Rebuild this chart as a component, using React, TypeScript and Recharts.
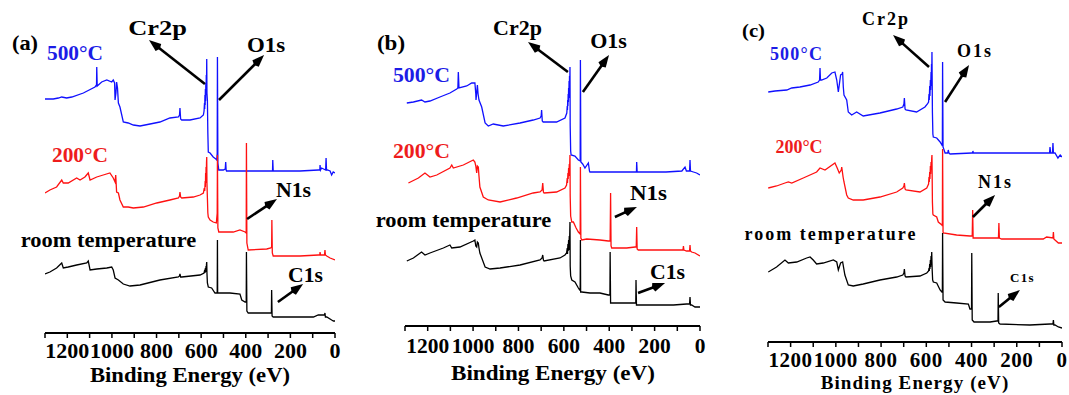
import React from 'react';
import { LineChart, Line, XAxis, YAxis, ReferenceLine } from 'recharts';

// Binding energy ticks (eV)
const energyTicks = [1300, 1200, 1100, 1000, 900, 800, 700, 600, 500, 400, 300, 200, 100, 0];
const energyLabels = [1200, 1000, 800, 600, 400, 200, 0];

// ---------- Panel (a) : [binding energy eV, intensity a.u.] ----------
const aBlue = [[1300,234],[1263,234],[1240,235],[1225,236],[1203,235],[1180,236],[1128,240],[1076,246],[1069,248],[1068,266],[1066,247],[1046,251],[1023,253],[1001,251],[994,253],[988,250],[986,233],[982,240],[979,251],[975,245],[971,230],[964,226],[949,211],[927,210],[904,208],[874,207],[829,209],[785,211],[740,215],[702,216],[697,218],[695,225],[692,214],[687,213],[650,213],[605,215],[590,218],[587,222],[585,230],[584,224],[583,238],[582,228],[581,244],[580,232],[579,250],[578,238],[577,258],[576,245],[575,274],[574,240],[572,233],[570,200],[568,181],[560,180],[546,176],[534,174],[530,173],[528,180],[527,276],[525,170],[521,163],[501,163],[492,164],[490,171],[488,163],[486,162],[396,162],[306,162],[284,162],[280,162],[279,173],[277,162],[275,162],[157,162],[75,163],[68,163],[67,168],[65,163],[60,165],[42,163],[40,175],[38,163],[34,163],[22,162],[15,158],[8,161],[0,160]];
const aRed = [[1300,140],[1278,143],[1248,146],[1225,153],[1218,150],[1196,150],[1158,155],[1143,153],[1121,156],[1106,160],[1098,153],[1068,156],[1039,158],[1009,160],[994,155],[986,151],[983,158],[979,141],[971,140],[964,133],[949,126],[927,126],[904,125],[859,126],[799,130],[740,133],[702,135],[697,137],[695,141],[692,136],[687,135],[635,136],[605,138],[590,140],[586,145],[584,142],[582,152],[581,146],[580,160],[579,150],[578,166],[577,156],[576,170],[575,176],[574,150],[572,135],[570,120],[568,116],[560,113],[546,111],[532,110],[528,120],[527,178],[525,105],[521,101],[456,101],[426,103],[403,101],[398,100],[397,190],[395,90],[389,83],[306,84],[288,85],[284,86],[283,113],[281,80],[277,77],[157,77],[75,78],[68,78],[67,81],[65,78],[60,78],[47,78],[45,83],[43,78],[37,77],[22,75],[0,73]];
const aBlack = [[1300,59],[1278,61],[1248,65],[1225,70],[1218,65],[1196,66],[1158,68],[1113,70],[1106,72],[1098,63],[1068,64],[1023,65],[1001,66],[994,63],[986,55],[971,53],[949,49],[919,47],[874,48],[785,53],[702,56],[697,57],[695,59],[692,56],[687,56],[605,58],[587,60],[584,63],[583,60],[581,65],[580,61],[578,67],[577,62],[576,69],[575,71],[574,60],[572,50],[568,46],[553,45],[538,40],[531,40],[528,40],[527,93],[526,40],[521,40],[471,40],[426,39],[418,33],[403,31],[398,31],[397,81],[395,22],[389,20],[306,20],[291,20],[285,20],[284,43],[282,17],[277,16],[97,16],[75,18],[47,18],[45,20],[43,16],[37,16],[15,13],[7,12],[0,12]];

// ---------- Panel (b) ----------
const bBlue = [[1292,223],[1263,224],[1227,226],[1212,224],[1190,225],[1146,229],[1102,233],[1072,237],[1067,238],[1065,254],[1062,238],[1028,240],[1006,243],[992,243],[988,232],[987,226],[983,236],[981,241],[978,232],[974,226],[962,219],[947,203],[933,200],[911,202],[867,200],[793,203],[735,206],[705,208],[700,210],[698,216],[695,205],[691,204],[632,204],[595,208],[587,213],[585,220],[584,216],[583,226],[582,220],[581,232],[580,224],[579,238],[578,228],[577,245],[576,234],[575,250],[574,240],[573,259],[572,200],[570,175],[568,171],[551,170],[536,166],[528,165],[527,266],[525,164],[517,162],[507,158],[492,163],[487,155],[485,154],[400,154],[285,154],[280,154],[279,164],[277,154],[150,154],[80,155],[66,159],[60,155],[46,155],[44,166],[42,155],[29,154],[15,153],[0,151]];
const bRed = [[1285,143],[1241,148],[1212,153],[1190,149],[1160,151],[1102,158],[1094,161],[1087,158],[1043,161],[999,166],[992,164],[988,160],[984,153],[981,160],[977,159],[974,150],[970,139],[955,129],[933,126],[881,124],[808,128],[735,133],[705,134],[696,136],[693,143],[690,134],[687,133],[632,134],[595,138],[588,141],[585,148],[584,143],[582,153],[581,147],[579,158],[578,150],[576,162],[575,155],[573,171],[572,130],[570,110],[565,104],[558,104],[546,98],[536,94],[528,92],[527,159],[525,88],[521,86],[499,87],[441,86],[404,85],[396,85],[394,133],[392,80],[389,78],[323,78],[286,79],[281,79],[279,99],[277,77],[272,76],[191,76],[88,76],[75,76],[73,80],[71,76],[59,75],[46,75],[44,81],[42,75],[37,74],[22,73],[0,70]];
const bBlack = [[1292,65],[1263,68],[1227,74],[1212,71],[1190,73],[1131,78],[1102,81],[1094,78],[1058,79],[999,85],[992,86],[988,80],[984,79],[981,84],[977,83],[974,78],[970,73],[947,59],[925,57],[881,58],[793,61],[705,66],[696,68],[693,71],[690,66],[687,65],[617,68],[595,71],[588,73],[585,78],[584,72],[582,82],[581,75],[579,86],[578,76],[576,90],[575,80],[573,104],[572,60],[570,50],[565,46],[551,44],[536,38],[530,36],[528,36],[527,86],[526,34],[521,34],[485,33],[441,33],[404,31],[397,31],[396,74],[394,23],[389,23],[323,23],[286,23],[283,23],[282,46],[280,21],[272,21],[117,21],[59,22],[46,22],[44,29],[42,21],[37,21],[22,19],[0,19]];

// ---------- Panel (c) ----------
const cBlue = [[1299,250],[1269,251],[1217,252],[1195,254],[1159,255],[1114,257],[1078,260],[1072,262],[1070,274],[1068,262],[1063,262],[1040,264],[1018,269],[1004,270],[996,262],[989,250],[979,267],[972,268],[970,270],[967,255],[964,247],[952,242],[945,230],[930,227],[908,230],[879,226],[805,229],[731,233],[704,235],[699,238],[697,244],[694,233],[690,232],[643,230],[606,235],[595,238],[590,240],[588,248],[587,242],[585,256],[584,246],[582,262],[581,252],[579,270],[578,256],[577,278],[576,262],[575,290],[573,230],[571,208],[569,205],[554,204],[539,200],[531,197],[529,196],[528,280],[526,195],[517,189],[505,189],[503,192],[500,189],[495,188],[399,189],[395,189],[394,191],[392,189],[274,189],[261,189],[97,189],[55,189],[53,195],[50,189],[42,189],[40,199],[38,189],[31,189],[18,184],[8,187],[0,185]];
const cRed = [[1299,154],[1262,156],[1225,159],[1210,160],[1195,159],[1144,164],[1085,170],[1070,174],[1048,172],[1004,179],[994,174],[985,169],[976,172],[974,175],[968,165],[964,160],[952,147],[945,144],[923,142],[879,142],[805,145],[731,150],[704,154],[699,156],[697,159],[694,153],[690,152],[628,150],[598,154],[590,158],[588,165],[587,160],[585,170],[584,163],[582,176],[581,168],[579,180],[578,172],[576,184],[575,187],[573,140],[571,128],[569,127],[554,125],[547,120],[531,117],[529,116],[528,193],[526,110],[525,109],[466,107],[407,106],[397,106],[395,132],[393,104],[385,104],[289,104],[281,104],[279,119],[277,104],[267,103],[83,103],[68,105],[40,104],[38,110],[36,103],[31,102],[16,99],[0,99]];
const cBlack = [[1299,70],[1262,75],[1225,82],[1210,79],[1173,80],[1129,84],[1114,85],[1100,82],[1085,78],[1056,79],[1011,82],[996,80],[989,72],[979,79],[970,80],[960,67],[945,57],[923,56],[879,58],[805,62],[731,65],[704,67],[699,69],[697,73],[694,66],[690,65],[628,66],[598,69],[590,71],[588,74],[587,71],[585,78],[584,73],[582,82],[581,75],[579,86],[578,78],[576,90],[575,80],[574,72],[572,62],[569,60],[554,59],[539,52],[531,50],[529,50],[528,109],[526,42],[517,40],[466,39],[414,38],[407,33],[400,33],[399,89],[397,22],[389,20],[318,20],[289,21],[283,21],[282,49],[280,19],[274,18],[142,17],[53,18],[40,18],[38,22],[36,17],[31,17],[16,15],[0,14]];

const toPts = (arr: number[][]) => arr.map(([e, i]) => ({ e, i }));

const FONT = '"Liberation Serif", "Times New Roman", serif';

const Arrow = (p: any) => {
  const { x1, y1, x2, y2 } = p;
  if ([x1, y1, x2, y2].some((v) => typeof v !== 'number' || isNaN(v))) return <g />;
  const dx = x2 - x1;
  const dy = y2 - y1;
  const len = Math.hypot(dx, dy) || 1;
  const ux = dx / len;
  const uy = dy / len;
  const hl = 12;
  const hw = 4.5;
  const bx = x2 - ux * hl;
  const by = y2 - uy * hl;
  const px = -uy;
  const py = ux;
  return (
    <g>
      <line x1={x1} y1={y1} x2={bx + ux * 2} y2={by + uy * 2} stroke="#000" strokeWidth={2.6} />
      <polygon
        points={`${x2},${y2} ${bx + px * hw},${by + py * hw} ${bx - ux * 2},${by - uy * 2} ${bx - px * hw},${by - py * hw}`}
        fill="#000"
      />
    </g>
  );
};

const makeTick = (fs: number, sx: number, ls: number) => (props: any) => {
  const { x, y, payload } = props;
  const v = payload && payload.value;
  if (!energyLabels.includes(v)) return <g />;
  return (
    <text
      transform={`translate(${x},${y}) scale(${sx},1)`}
      dy="0.71em"
      textAnchor="middle"
      fontFamily={FONT}
      fontWeight="bold"
      fontSize={fs}
      letterSpacing={ls}
      fill="#000"
    >
      {v}
    </text>
  );
};

type PanelProps = {
  left: number;
  width: number;
  ml: number;
  mr: number;
  axisY: number;
  xh: number;
  tickMargin: number;
  tickFs: number;
  tickSx: number;
  tickLs: number;
  blue: number[][];
  red: number[][];
  black: number[][];
  arrows: number[][];
};

function Panel(p: PanelProps) {
  return (
    <div style={{ position: 'absolute', left: p.left, top: 0 }}>
      <LineChart
        width={p.width}
        height={395}
        margin={{ top: 0, right: p.mr, left: p.ml, bottom: 395 - p.axisY - p.xh }}
      >
        <XAxis
          type="number"
          dataKey="e"
          domain={[0, 1300]}
          reversed
          allowDataOverflow
          ticks={energyTicks}
          interval={0}
          height={p.xh}
          tickSize={5}
          tickMargin={p.tickMargin}
          axisLine={{ stroke: '#000', strokeWidth: 2 }}
          tickLine={{ stroke: '#000', strokeWidth: 1.5 }}
          tick={makeTick(p.tickFs, p.tickSx, p.tickLs)}
        />
        <YAxis hide type="number" domain={[0, p.axisY]} allowDataOverflow />
        <Line data={toPts(p.blue)} dataKey="i" type="linear" stroke="#1010ff" strokeWidth={1.3} dot={false} activeDot={false} isAnimationActive={false} />
        <Line data={toPts(p.red)} dataKey="i" type="linear" stroke="#ff1010" strokeWidth={1.3} dot={false} activeDot={false} isAnimationActive={false} />
        <Line data={toPts(p.black)} dataKey="i" type="linear" stroke="#000" strokeWidth={1.3} dot={false} activeDot={false} isAnimationActive={false} />
        {p.arrows.map((a, k) => (
          <ReferenceLine
            key={k}
            segment={[{ x: a[0], y: a[1] }, { x: a[2], y: a[3] }]}
            ifOverflow="visible"
            shape={Arrow}
          />
        ))}
      </LineChart>
    </div>
  );
}

type TProps = { x: number; y: number; fs: number; sx?: number; ls?: number; fill?: string; children: React.ReactNode };
const T = ({ x, y, fs, sx = 1, ls = 0, fill = '#000', children }: TProps) => (
  <text
    transform={`translate(${x},${y}) scale(${sx},1)`}
    textAnchor="middle"
    fontFamily={FONT}
    fontWeight="bold"
    fontSize={fs}
    letterSpacing={ls}
    fill={fill}
  >
    {children}
  </text>
);

const BLUE_TXT = '#1c1ce6';
const RED_TXT = '#ee1c1c';

export default function App() {
  return (
    <div style={{ position: 'absolute', left: 0, top: 0, width: 1069, height: 395, background: '#fff', overflow: 'hidden' }}>
      <Panel
        left={0} width={360} ml={45} mr={25} axisY={333} xh={60}
        tickMargin={4} tickFs={22} tickSx={1} tickLs={0}
        blue={aBlue} red={aRed} black={aBlack}
        arrows={[[583, 249, 834, 293], [520, 233, 318, 278], [394, 114, 260, 134], [256, 31, 143, 49]]}
      />
      <Panel
        left={360} width={360} ml={45} mr={20} axisY={326} xh={60}
        tickMargin={7} tickFs={21} tickSx={1.02} tickLs={0}
        blue={bBlue} red={bRed} black={bBlack}
        arrows={[[582, 254, 758, 284], [516, 234, 401, 271], [375, 109, 278, 119], [273, 33, 154, 43]]}
      />
      <Panel
        left={720} width={349} ml={48} mr={7} axisY={342} xh={50}
        tickMargin={5} tickFs={21} tickSx={1} tickLs={0.5}
        blue={cBlue} red={cRed} black={cBlack}
        arrows={[[588, 275, 747, 307], [517, 240, 411, 277], [394, 125, 296, 147], [279, 35, 186, 52]]}
      />
      <svg width={1069} height={395} style={{ position: 'absolute', left: 0, top: 0, pointerEvents: 'none' }}>
        {/* panel (a) */}
        <T x={25} y={50} fs={20} sx={1.12}>(a)</T>
        <T x={75} y={60} fs={20} sx={1.07} fill={BLUE_TXT}>500°C</T>
        <T x={157.5} y={35} fs={22} sx={1.2}>Cr2p</T>
        <T x={266} y={51.5} fs={21} sx={1.09}>O1s</T>
        <T x={80} y={161.5} fs={21} sx={1.02} fill={RED_TXT}>200°C</T>
        <T x={293.5} y={196.5} fs={20} sx={1.09}>N1s</T>
        <T x={108.5} y={246.5} fs={22} sx={1.02}>room temperature</T>
        <T x={305.5} y={281.5} fs={21} sx={1.03}>C1s</T>
        <T x={190} y={381.5} fs={22} sx={1.03}>Binding Energy (eV)</T>
        {/* panel (b) */}
        <T x={391} y={50} fs={20} sx={1.15}>(b)</T>
        <T x={421.5} y={81.5} fs={20} sx={1.09} fill={BLUE_TXT}>500°C</T>
        <T x={517.5} y={35} fs={20} sx={1.1}>Cr2p</T>
        <T x={608.5} y={48.3} fs={20} sx={1.1}>O1s</T>
        <T x={421.5} y={158.3} fs={20} sx={1.09} fill={RED_TXT}>200°C</T>
        <T x={648.5} y={200} fs={20} sx={1.15}>N1s</T>
        <T x={463.5} y={226.7} fs={21} sx={1.07}>room temperature</T>
        <T x={667.5} y={279.3} fs={20} sx={1.09}>C1s</T>
        <T x={553} y={380} fs={22} sx={1.05}>Binding Energy (eV)</T>
        {/* panel (c) */}
        <T x={753.5} y={37} fs={18} sx={1.15}>(c)</T>
        <T x={796.5} y={60} fs={18} ls={1.2} fill={BLUE_TXT}>500°C</T>
        <T x={886} y={25} fs={18} ls={2}>Cr2p</T>
        <T x={975} y={56.7} fs={18} ls={2}>O1s</T>
        <T x={799} y={153.3} fs={18} fill={RED_TXT}>200°C</T>
        <T x={995.5} y={188.3} fs={18} ls={2}>N1s</T>
        <T x={831} y={240} fs={18} ls={2}>room temperature</T>
        <T x={1022.5} y={281.7} fs={13} ls={1.3}>C1s</T>
        <T x={915} y={389} fs={19} ls={1.1}>Binding Energy (eV)</T>
      </svg>
    </div>
  );
}
